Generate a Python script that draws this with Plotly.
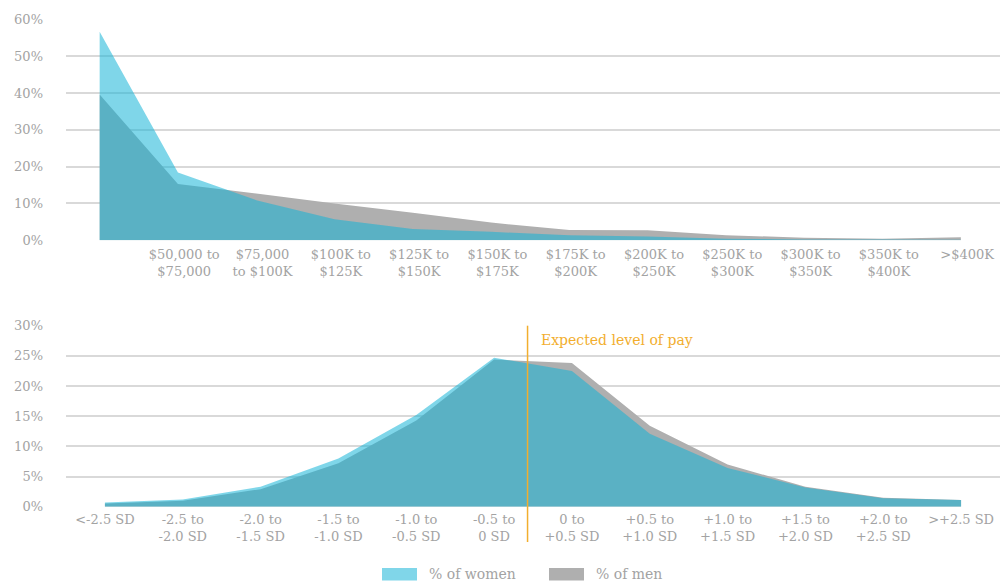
import plotly.graph_objects as go

# ---------------- data ----------------
income_bands = ["", "$50,000 to<br>$75,000", "$75,000<br>to $100K", "$100K to<br>$125K",
                "$125K to<br>$150K", "$150K to<br>$175K", "$175K to<br>$200K",
                "$200K to<br>$250K", "$250K to<br>$300K", "$300K to<br>$350K",
                "$350K to<br>$400K", ">$400K"]
income_women = [56.6, 18.4, 10.9, 5.7, 3.1, 2.3, 1.4, 1.0, 0.45, 0.25, 0.2, 0.15]
income_men = [39.6, 15.3, 12.7, 10.0, 7.5, 4.8, 2.8, 2.7, 1.4, 0.7, 0.45, 0.8]

sd_bands = ["<-2.5 SD", "-2.5 to<br>-2.0 SD", "-2.0 to<br>-1.5 SD", "-1.5 to<br>-1.0 SD",
            "-1.0 to<br>-0.5 SD", "-0.5 to<br>0 SD", "0 to<br>+0.5 SD", "+0.5 to<br>+1.0 SD",
            "+1.0 to<br>+1.5 SD", "+1.5 to<br>+2.0 SD", "+2.0 to<br>+2.5 SD", ">+2.5 SD"]
sd_women = [0.7, 1.2, 3.3, 8.0, 15.2, 24.7, 22.5, 12.1, 6.4, 3.2, 1.4, 1.1]
sd_men = [0.55, 1.0, 2.9, 7.2, 14.3, 24.4, 23.8, 13.4, 7.0, 3.3, 1.5, 1.1]

series_names = ["% of women", "% of men"]
expected_pay_position = 5.43   # category-axis position of the "expected level of pay" marker
expected_pay_label = "Expected level of pay"

# ---------------- styles ----------------
FONT = "DejaVu Serif"
TEXT_GRAY = "#A3A3A3"
GRID = "#D9D9D9"
MEN_FILL = "#AFAFAF"
WOMEN_FILL = "rgba(19,180,215,0.54)"
WOMEN_SWATCH = "#80D6E9"
ORANGE = "#F2AE2E"

W, H = 1008, 582
L, R = 66, 8
PW = W - L - R


def px_x(px):
    return (px - L) / PW


def px_y(py):
    return (H - py) / H


top_dom = [px_y(240.3), px_y(19.3)]
bot_dom = [px_y(506.7), px_y(325.7)]

fig = go.Figure()

x_income = list(range(len(income_bands)))
x_sd = list(range(len(sd_bands)))

fig.add_trace(go.Scatter(x=x_income, y=income_men, mode="none", fill="tozeroy",
                         fillcolor=MEN_FILL, name=series_names[1], showlegend=False,
                         xaxis="x", yaxis="y"))
fig.add_trace(go.Scatter(x=x_income, y=income_women, mode="none", fill="tozeroy",
                         fillcolor=WOMEN_FILL, name=series_names[0], showlegend=False,
                         xaxis="x", yaxis="y"))
fig.add_trace(go.Scatter(x=x_sd, y=sd_men, mode="none", fill="tozeroy",
                         fillcolor=MEN_FILL, name=series_names[1], showlegend=False,
                         xaxis="x2", yaxis="y2"))
fig.add_trace(go.Scatter(x=x_sd, y=sd_women, mode="none", fill="tozeroy",
                         fillcolor=WOMEN_FILL, name=series_names[0], showlegend=False,
                         xaxis="x2", yaxis="y2"))

tickfont = dict(family=FONT, size=13, color=TEXT_GRAY)
common_x = dict(showgrid=False, zeroline=False, showline=False, ticks="",
                tickfont=tickfont, automargin=False, tickmode="array")
common_y = dict(ticksuffix="%", showgrid=True, gridcolor=GRID, gridwidth=1.5,
                zeroline=False, showline=False, ticks="", tickfont=tickfont,
                ticklabelstandoff=22, automargin=False)

fig.update_layout(
    width=W, height=H,
    margin=dict(l=L, r=R, t=0, b=0, autoexpand=False),
    paper_bgcolor="white", plot_bgcolor="white",
    font=dict(family=FONT, color=TEXT_GRAY, size=13),
    showlegend=False,
    xaxis=dict(domain=[0, 1], anchor="y", range=[-0.43, 11.5],
               tickvals=[v + 0.08 for v in x_income], ticktext=income_bands,
               ticklabelstandoff=5, **common_x),
    yaxis=dict(domain=top_dom, anchor="x", range=[0, 60], dtick=10, **common_y),
    xaxis2=dict(domain=[0, 1], anchor="y2", range=[-0.5, 11.5],
                tickvals=x_sd, ticktext=sd_bands, ticklabelstandoff=3, **common_x),
    yaxis2=dict(domain=bot_dom, anchor="x2", range=[0, 30], dtick=5, **common_y),
)

# expected level of pay marker
fig.add_shape(type="line", xref="x2", yref="paper",
              x0=expected_pay_position, x1=expected_pay_position,
              y0=px_y(542), y1=bot_dom[1],
              line=dict(color=ORANGE, width=1.5))
fig.add_annotation(text=expected_pay_label, xref="x2", yref="y2",
                   x=expected_pay_position, y=27.6, xanchor="left", yanchor="middle",
                   xshift=11, showarrow=False,
                   font=dict(family=FONT, size=14, color=ORANGE))

# legend (swatch + label), drawn below the lower chart
legend_items = [(series_names[0], WOMEN_SWATCH, 382), (series_names[1], MEN_FILL, 549)]
for name, color, x0 in legend_items:
    fig.add_shape(type="rect", xref="paper", yref="paper",
                  x0=px_x(x0), x1=px_x(x0 + 35), y0=px_y(580.5), y1=px_y(568),
                  fillcolor=color, line=dict(width=0), layer="above")
    fig.add_annotation(text=name, xref="paper", yref="paper",
                       x=px_x(x0 + 45), y=px_y(574), xanchor="left", yanchor="middle",
                       showarrow=False,
                       font=dict(family=FONT, size=14, color=TEXT_GRAY))

fig.write_html("out.html", config={"displayModeBar": False},
               post_script="document.body.style.margin='0';")
